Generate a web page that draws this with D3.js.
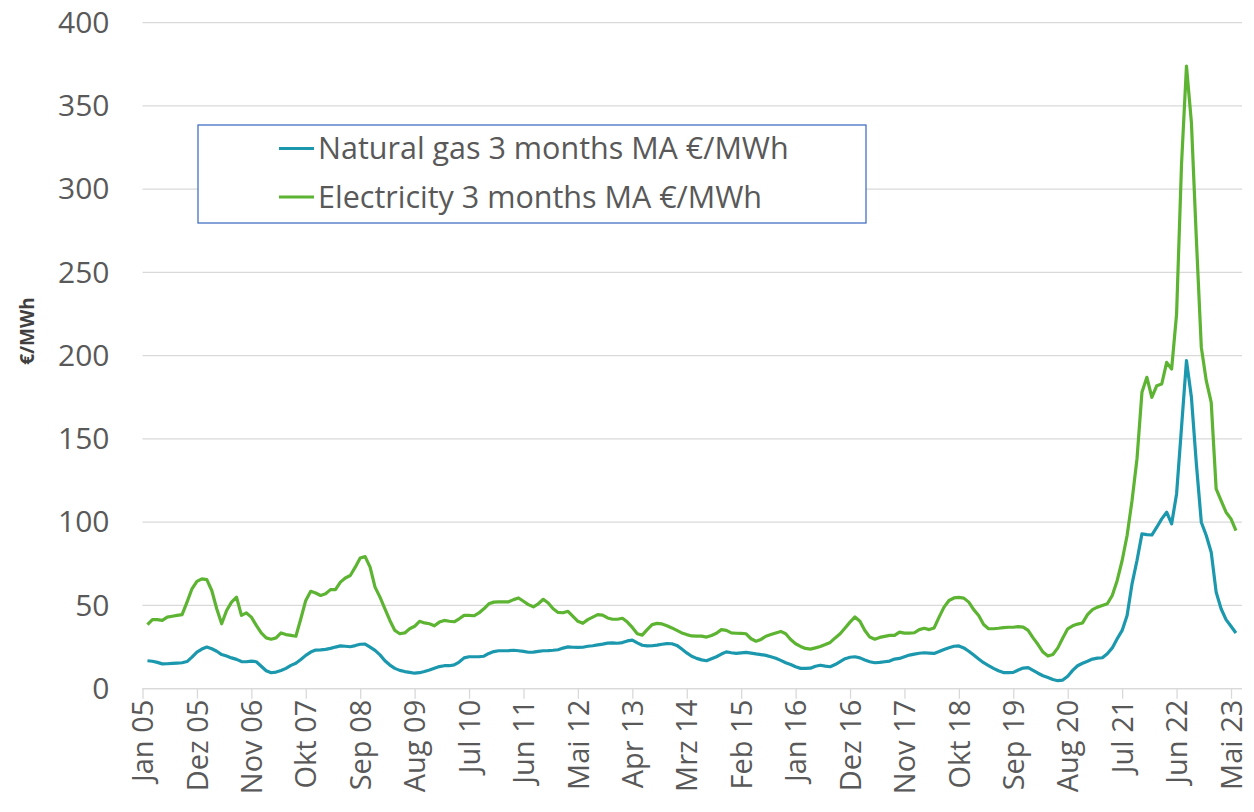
<!DOCTYPE html>
<html>
<head>
<meta charset="utf-8">
<script src="https://cdn.jsdelivr.net/npm/d3@7"></script>
<style>
  body { margin: 0; background: #fff; }
  svg { font-family: "Open Sans", sans-serif; }
</style>
</head>
<body>
<div id="chart"></div>
<script>
// x axis category labels, one every 11 months starting Jan 05
const tickLabels = ["Jan 05","Dez 05","Nov 06","Okt 07","Sep 08","Aug 09","Jul 10","Jun 11","Mai 12","Apr 13",
  "Mrz 14","Feb 15","Jan 16","Dez 16","Nov 17","Okt 18","Sep 19","Aug 20","Jul 21","Jun 22","Mai 23"];
const tickStep = 11;          // months between labels
const firstMonth = 1;         // series start: Feb 05 (month index from Jan 05)

const seriesNames = ["Natural gas 3 months MA €/MWh", "Electricity 3 months MA €/MWh"];
const seriesColors = ["#1b98ad", "#5db432"];

// monthly 3-month moving averages, Feb 2005 onward
const gas = [16.8,16.5,15.8,14.9,15,15.2,15.4,15.6,16.3,19,
  22,23.8,25,24,22.5,20.5,19.6,18.5,17.6,16.3,
  16.2,16.6,16.2,13.5,10.8,9.6,10,10.9,12.2,14,
  15.3,17.5,20,22,23.2,23.3,23.6,24.2,25,25.7,
  25.5,25.2,25.9,26.7,26.8,25,23,20.3,16.8,14.2,
  12.2,11,10.3,9.8,9.3,9.6,10.3,11.2,12.3,13.3,
  13.8,13.8,14.3,16,18.5,19.2,19.2,19.2,19.5,21.2,
  22.3,22.8,22.8,22.9,23.1,22.8,22.4,21.9,22,22.4,
  22.8,22.9,23.1,23.4,24.4,25.1,24.9,24.8,24.9,25.5,
  25.8,26.3,26.8,27.4,27.5,27.3,27.7,28.7,29.2,27.5,
  26.1,25.7,25.8,26.2,26.7,27.1,27,26,23.8,21.5,
  19.5,18.2,17.3,16.8,18,19.2,20.8,22.1,21.6,21.2,
  21.5,21.8,21.4,20.9,20.5,20,19.2,18.3,17,15.6,
  14.5,13.2,12.2,12.2,12.3,13.5,14.1,13.6,13.2,14.5,
  16.3,18,18.9,19.2,18.5,17.2,16.2,15.6,15.8,16.2,
  16.6,17.8,18.2,19.2,20.2,20.8,21.3,21.6,21.4,21.2,
  22.3,23.5,24.6,25.5,25.7,24.5,22.5,20.2,17.8,15.6,
  13.9,12.2,10.8,9.7,9.7,9.8,11.2,12.4,12.7,11,
  9.3,7.8,6.7,5.5,4.8,5.2,7.5,11,13.8,15.3,
  16.5,17.8,18.4,18.6,21,24.5,30,35,44,63,
  77,93,92.5,92.3,97,102,106,99,117,157,
  197,175,135,100,92,82,58,48,41.5,37.5,
  33.5];

const electricity = [38.5,41.5,41.5,41,43,43.5,44,44.5,52,60,
  64.5,66,65.5,59,48,39,47,52,55,44,
  45.5,43,38,33.5,30.5,29.7,30.5,33.5,32.5,32,
  31.5,42,53,58.5,57.5,56,57,59.5,59.5,64,
  66.5,68,73,78.5,79.3,73,61,55,48,41,
  35,33,33.5,36,37.5,40.5,39.5,39,37.8,40,
  41,40.5,40.2,42,44,44,43.8,45.5,48,51,
  52,52.2,52.2,52.2,53.5,54.5,52.5,50.5,49.2,51,
  53.7,51.5,48,45.8,45.6,46.5,43.5,40.5,39.3,41.5,
  43,44.5,44.2,42.5,41.7,41.7,42.3,40,36.8,33,
  32.2,35.5,38.5,39.2,38.9,37.8,36.5,35,33.5,32.5,
  31.7,31.6,31.6,31,32,33.3,35.5,35,33.5,33.3,
  33.2,33,30,28.5,29.6,31.5,32.5,33.5,34.4,33,
  29.5,27,25.4,24.2,23.8,24.5,25.3,26.5,27.8,30.5,
  33,36.5,40,43.1,40.5,35,31,29.7,30.8,31.4,
  32,32,34,33.4,33.4,33.6,35.5,36.3,35.5,36.5,
  43,49,53,54.5,54.8,54.4,52,47.5,44,38.5,
  36,36,36.3,36.7,36.9,36.9,37.3,37,35,30.5,
  26.5,22,19.6,20.5,24.5,30.5,36,37.8,38.8,39.5,
  44.5,47.5,49,50,51,56,65,77,92,113,
  138,178,187,175,182,183,196,192,225,315,
  374,340,270,205,185,172,120,113,106,102,
  95];

const yTicks = [0, 50, 100, 150, 200, 250, 300, 350, 400];

const width = 1254, height = 812;
const margin = { left: 142.5, right: 12, top: 22.7, bottom: 123.3 };

const svg = d3.select("#chart").append("svg")
  .attr("width", width)
  .attr("height", height);

const lastTick = (tickLabels.length - 1) * tickStep;
const x = d3.scaleLinear().domain([0, lastTick]).range([margin.left, 1231]);
const y = d3.scaleLinear().domain([0, 400]).range([height - margin.bottom, margin.top]);

// gridlines
svg.append("g")
  .selectAll("line")
  .data(yTicks)
  .enter().append("line")
  .attr("x1", margin.left)
  .attr("x2", width - margin.right)
  .attr("y1", d => y(d))
  .attr("y2", d => y(d))
  .attr("stroke", "#d9d9d9")
  .attr("stroke-width", 1.3);

// y axis labels
const yAxis = svg.append("g")
  .attr("transform", `translate(${margin.left - 33},0)`)
  .call(d3.axisLeft(y).tickValues(yTicks).tickSize(0).tickPadding(0));
yAxis.select(".domain").remove();
yAxis.selectAll("text")
  .attr("font-size", 30)
  .attr("font-family", "Open Sans")
  .attr("fill", "#595959");

// x axis
const xAxis = svg.append("g")
  .attr("transform", `translate(0,${y(0)})`)
  .call(d3.axisBottom(x)
    .tickValues(tickLabels.map((d, i) => i * tickStep))
    .tickFormat(d => tickLabels[d / tickStep])
    .tickSize(10)
    .tickPadding(8));
xAxis.select(".domain")
  .attr("d", `M${margin.left},0H${width - margin.right}`)
  .attr("stroke", "#d9d9d9")
  .attr("stroke-width", 1.3);
xAxis.selectAll(".tick line").attr("stroke", "#d9d9d9").attr("stroke-width", 1.3);
xAxis.selectAll("text")
  .attr("font-size", 29)
  .attr("font-family", "Open Sans")
  .attr("fill", "#595959")
  .attr("text-anchor", "end")
  .attr("transform", "rotate(-90)")
  .attr("x", -11)
  .attr("y", 0)
  .attr("dy", "0.35em");

// y axis title
svg.append("text")
  .attr("transform", `translate(34,331) rotate(-90)`)
  .attr("text-anchor", "middle")
  .attr("font-size", 19)
  .attr("font-weight", "bold")
  .attr("fill", "#404040")
  .text("€/MWh");

// lines
const line = d3.line()
  .x((d, i) => x(firstMonth + i))
  .y(d => y(d));

[gas, electricity].forEach((series, k) => {
  svg.append("path")
    .datum(series)
    .attr("fill", "none")
    .attr("stroke", seriesColors[k])
    .attr("stroke-width", 3.2)
    .attr("stroke-linejoin", "round")
    .attr("d", line);
});

// legend
const legend = svg.append("g");
legend.append("rect")
  .attr("x", 198).attr("y", 125)
  .attr("width", 668).attr("height", 98)
  .attr("fill", "#fff")
  .attr("stroke", "#4472c4")
  .attr("stroke-width", 1.3);

seriesNames.forEach((name, k) => {
  const ly = 148.5 + k * 48.5;
  legend.append("line")
    .attr("x1", 279).attr("x2", 314)
    .attr("y1", ly).attr("y2", ly)
    .attr("stroke", seriesColors[k])
    .attr("stroke-width", 3.2);
  legend.append("text")
    .attr("x", 318).attr("y", ly)
    .attr("dy", "0.35em")
    .attr("font-size", 30.5)
    .attr("fill", "#595959")
    .text(name);
});
</script>
</body>
</html>
